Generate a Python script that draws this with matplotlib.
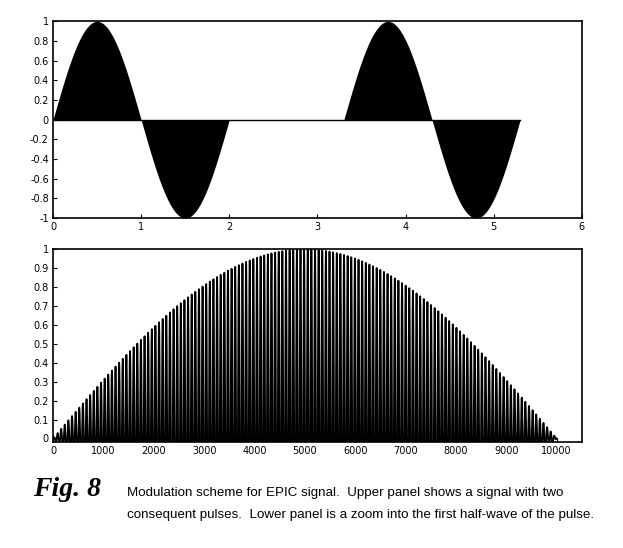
import numpy as np
import matplotlib
matplotlib.use("Agg")
import matplotlib.pyplot as plt

# Values
pulse_starts = [0.0, 3.3]        # start time of each full sine pulse
pulse_length = 2.0               # one full sine period per pulse
amplitude = 1.0
signal_end = 5.3                 # zero line stops here

zoom_length = 10000              # samples in the first half-wave
carrier_period = 72.0            # samples per carrier cycle (approx.)

upper_xticks = [0, 1, 2, 3, 4, 5, 6]
upper_yticks = [-1, -0.8, -0.6, -0.4, -0.2, 0, 0.2, 0.4, 0.6, 0.8, 1]
lower_xticks = [0, 1000, 2000, 3000, 4000, 5000, 6000, 7000, 8000, 9000, 10000]
lower_yticks = [0, 0.1, 0.2, 0.3, 0.4, 0.5, 0.6, 0.7, 0.8, 0.9, 1]


def fmt(v):
    return f"{v:g}"


fig = plt.figure(figsize=(6.23, 5.48), dpi=100)

# Upper panel: two consecutive pulses
ax1 = fig.add_axes([0.085, 0.602, 0.849, 0.359])
ax1.plot([0, signal_end], [0, 0], color="black", lw=1.0)
for start in pulse_starts:
    t = np.linspace(start, start + pulse_length, 400)
    y = amplitude * np.sin(2 * np.pi * (t - start) / pulse_length)
    ax1.fill_between(t, 0, y, color="black", lw=0)
ax1.set_xlim(0, 6)
ax1.set_ylim(-1, 1)
ax1.set_xticks(upper_xticks)
ax1.set_xticklabels([fmt(v) for v in upper_xticks])
ax1.set_yticks(upper_yticks)
ax1.set_yticklabels([fmt(v) for v in upper_yticks])

# Lower panel: zoom into first half-wave
ax2 = fig.add_axes([0.085, 0.193, 0.849, 0.352])
n = np.arange(0, zoom_length + 1)
env = np.sin(np.pi * n / zoom_length)
sig = env * np.sin(2 * np.pi * n / carrier_period)
ax2.plot(n, sig, color="black", lw=1.3)
ax2.set_xlim(0, 10500)
ax2.set_ylim(-0.02, 1)
ax2.set_xticks(lower_xticks)
ax2.set_xticklabels([fmt(v) for v in lower_xticks])
ax2.set_yticks(lower_yticks)
ax2.set_yticklabels([fmt(v) for v in lower_yticks])

for ax in (ax1, ax2):
    ax.tick_params(direction="in", labelsize=7, length=3, width=0.8, pad=3)
    for sp in ax.spines.values():
        sp.set_linewidth(1.2)

fig.text(0.053, 0.095, "Fig. 8", fontsize=20, fontweight="bold",
         fontstyle="italic", family="Liberation Serif")
fig.text(0.204, 0.095, "Modulation scheme for EPIC signal.  Upper panel shows a signal with two",
         fontsize=9.6, family="Liberation Sans")
fig.text(0.204, 0.055, "consequent pulses.  Lower panel is a zoom into the first half-wave of the pulse.",
         fontsize=9.6, family="Liberation Sans")

fig.savefig("out.png", dpi=100)
